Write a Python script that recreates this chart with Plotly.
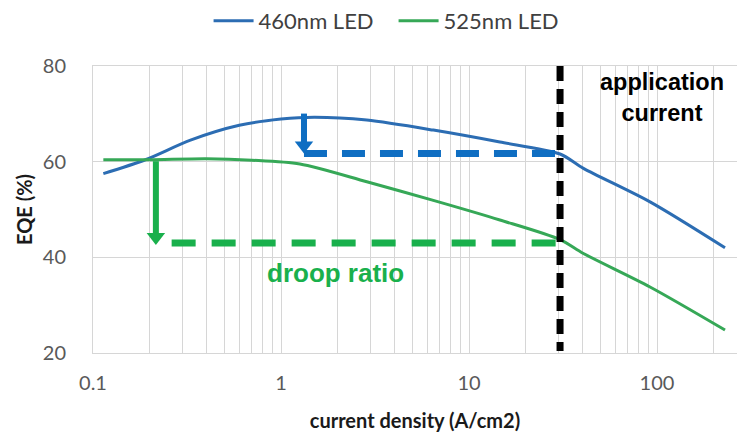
import math
import plotly.graph_objects as go

# ---- data ----
blue_x = [0.1135, 0.19, 0.33, 0.6, 1.0, 1.5, 2.86, 6.46, 14.6, 30.5, 40.6, 91.8, 230]
blue_y = [57.5, 60.4, 64.5, 67.6, 68.9, 69.3, 68.7, 66.6, 64.1, 61.6, 58.6, 51.6, 42.0]

green_x = [0.1135, 0.2, 0.4, 0.7, 1.26, 2.86, 6.46, 14.6, 30.5, 40.6, 91.8, 230]
green_y = [60.4, 60.4, 60.6, 60.3, 59.5, 55.8, 51.9, 47.8, 43.7, 40.8, 33.8, 24.8]

series_names = ["460nm LED", "525nm LED"]

application_current = 30.5
blue_droop_x = 1.325
blue_droop_top = 70.05
blue_droop_level = 61.7
green_droop_x = 0.216
green_droop_top = 60.1
green_droop_level = 43.0
green_dash_start = 0.262

x_tickvals = [0.1, 1, 10, 100]
x_ticktext = ["0.1", "1", "10", "100"]
x_minorvals = [m * d for d in (0.1, 1, 10) for m in range(2, 10)] + [200]
y_tickvals = [20, 40, 60, 80]

BLUE = "#2c6db3"
GREEN = "#36a857"
BLUE_D = "#0f6ec2"
GREEN_D = "#19b04c"
GRID = "#d6d6d6"

fig = go.Figure()

fig.add_trace(go.Scatter(x=blue_x, y=blue_y, mode="lines", name=series_names[0],
                         line=dict(color=BLUE, width=3, shape="spline", smoothing=0.8)))
fig.add_trace(go.Scatter(x=green_x, y=green_y, mode="lines", name=series_names[1],
                         line=dict(color=GREEN, width=3, shape="spline", smoothing=0.8)))

# droop dashed levels
fig.add_trace(go.Scatter(x=[blue_droop_x, application_current], y=[blue_droop_level] * 2,
                         mode="lines", showlegend=False, hoverinfo="skip",
                         line=dict(color=BLUE_D, width=7, dash="23px,15px")))
fig.add_trace(go.Scatter(x=[green_dash_start, application_current], y=[green_droop_level] * 2,
                         mode="lines", showlegend=False, hoverinfo="skip",
                         line=dict(color=GREEN_D, width=7, dash="24px,16px")))

# arrows (shaft + triangle head)
ppu = 287 / 60.0  # pixels per y unit
head_r = 8
for xv, top, lvl, col in [(blue_droop_x, blue_droop_top, blue_droop_level, BLUE_D),
                          (green_droop_x, green_droop_top, green_droop_level - 0.4, GREEN_D)]:
    cy = lvl + head_r / ppu
    fig.add_trace(go.Scatter(x=[xv, xv], y=[top, cy], mode="lines", showlegend=False,
                             hoverinfo="skip", line=dict(color=col, width=6)))
    fig.add_trace(go.Scatter(x=[xv], y=[cy], mode="markers", showlegend=False,
                             hoverinfo="skip",
                             marker=dict(symbol="triangle-down", size=2 * head_r, color=col,
                                         line=dict(width=0))))

# application current line
fig.add_trace(go.Scatter(x=[application_current] * 2, y=[80, 20.4], mode="lines",
                         showlegend=False, hoverinfo="skip",
                         line=dict(color="black", width=7, dash="15px,8px")))

fig.add_annotation(text="application<br>current", xref="paper", yref="paper",
                   x=0.8835, y=0.89, xanchor="center", yanchor="middle", showarrow=False,
                   font=dict(family="Liberation Sans", size=23.5, color="black", weight="bold"))
fig.add_annotation(text="droop ratio", xref="paper", yref="paper",
                   x=0.377, y=0.279, xanchor="center", yanchor="middle", showarrow=False,
                   font=dict(family="Liberation Sans", size=26, color=GREEN_D, weight="bold"))

fig.update_layout(
    width=737, height=435,
    margin=dict(l=93, r=0, t=66, b=82, autoexpand=False),
    paper_bgcolor="white", plot_bgcolor="white",
    font=dict(family="Lato", color="#595959", size=20),
    legend=dict(orientation="h", xref="container", yref="container",
                x=0.283, y=1.0, xanchor="left", yanchor="top",
                font=dict(size=22, color="#404040"), itemwidth=40,
                entrywidth=130, entrywidthmode="pixels",
                bgcolor="rgba(0,0,0,0)"),
    xaxis=dict(type="log", range=[-1, 2.4255], tickvals=x_tickvals, ticktext=x_ticktext,
               showgrid=True, gridcolor=GRID, gridwidth=1, automargin=False,
               minor=dict(tickvals=x_minorvals, showgrid=True, gridcolor=GRID, gridwidth=1),
               showline=True, linecolor=GRID, mirror=True, zeroline=False,
               ticks="", ticklabelstandoff=12,
               title=dict(text="current density (A/cm2)", standoff=20,
                          font=dict(size=20, color="#1a1a1a", weight="bold"))),
    yaxis=dict(range=[20, 80], tickvals=y_tickvals, showgrid=True, gridcolor=GRID,
               showline=True, linecolor=GRID, zeroline=False, ticks="", automargin=False,
               ticklabelstandoff=22,
               title=dict(text="EQE (%)", standoff=4,
                          font=dict(size=20, color="#1a1a1a", weight="bold"))),
)

fig.write_html("out.html", config={"displayModeBar": False},
               post_script="document.body.style.margin='0';")
